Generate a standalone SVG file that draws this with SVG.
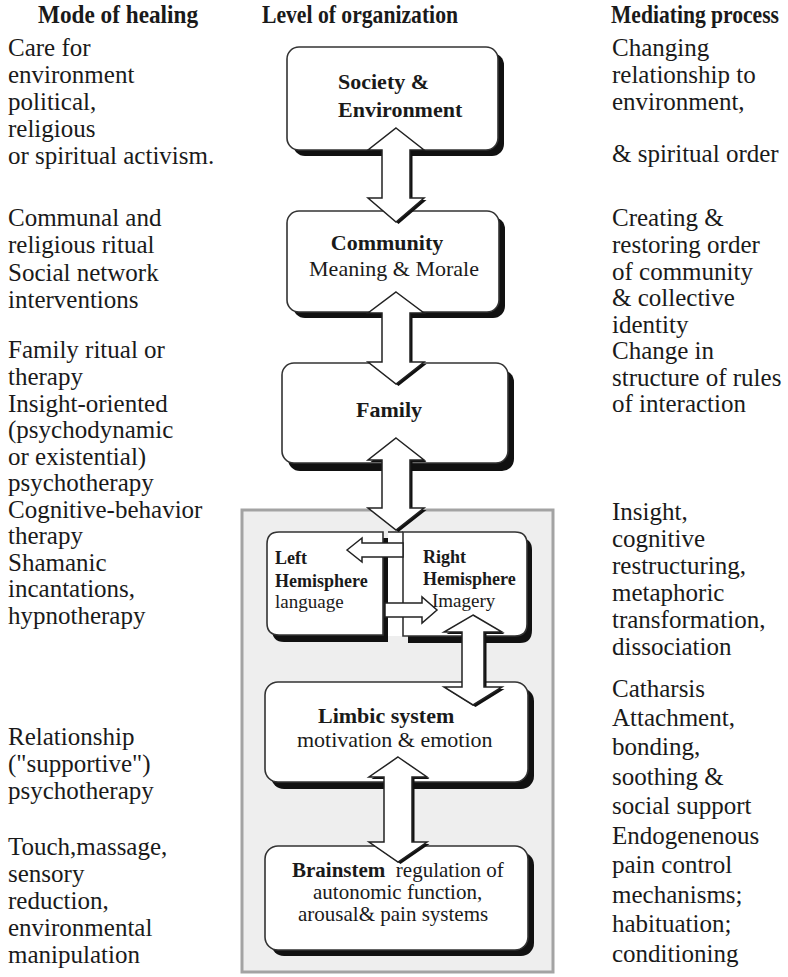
<svg xmlns="http://www.w3.org/2000/svg" width="788" height="977" viewBox="0 0 788 977">
<style>
  text { font-family: "Liberation Serif", "Times New Roman", serif; fill: #1a1a1a; }
  .hdr { font-size: 22px; font-weight: bold; }
  .side { font-size: 25px; }
  .bt { font-size: 22px; font-weight: bold; }
  .rt { font-size: 22px; }
  .hb { font-size: 18px; font-weight: bold; }
  .hr { font-size: 19px; }
  .bs { font-size: 21px; }
  .box { fill: #ffffff; stroke: #333333; stroke-width: 1.6; }
  .shadow { fill: #111111; }
  .arrow { fill: #ffffff; stroke: #222222; stroke-width: 1.5; stroke-linejoin: miter; }
  .ashadow { fill: #111111; }
</style>

<g id="headers">
  <text class="hdr" transform="translate(38,23) scale(1,1.12)" x="0" y="0" textLength="160" lengthAdjust="spacingAndGlyphs">Mode of healing</text>
  <text class="hdr" transform="translate(262,23) scale(1,1.12)" x="0" y="0" textLength="196" lengthAdjust="spacingAndGlyphs">Level of organization</text>
  <text class="hdr" transform="translate(611,23) scale(1,1.12)" x="0" y="0" textLength="168" lengthAdjust="spacingAndGlyphs">Mediating process</text>
</g>

<g id="col-mode">
  <text class="side">
    <tspan x="8" y="56">Care for</tspan>
    <tspan x="8" y="83">environment</tspan>
    <tspan x="8" y="110">political,</tspan>
    <tspan x="8" y="137">religious</tspan>
    <tspan x="8" y="164">or spiritual activism.</tspan>
    <tspan x="8" y="226">Communal and</tspan>
    <tspan x="8" y="253">religious ritual</tspan>
    <tspan x="8" y="281">Social network</tspan>
    <tspan x="8" y="308">interventions</tspan>
    <tspan x="8" y="358">Family ritual or</tspan>
    <tspan x="8" y="385">therapy</tspan>
    <tspan x="8" y="412">Insight-oriented</tspan>
    <tspan x="8" y="438">(psychodynamic</tspan>
    <tspan x="8" y="465">or existential)</tspan>
    <tspan x="8" y="491">psychotherapy</tspan>
    <tspan x="8" y="518">Cognitive-behavior</tspan>
    <tspan x="8" y="544">therapy</tspan>
    <tspan x="8" y="571">Shamanic</tspan>
    <tspan x="8" y="597">incantations,</tspan>
    <tspan x="8" y="624">hypnotherapy</tspan>
    <tspan x="8" y="745">Relationship</tspan>
    <tspan x="8" y="772">("supportive")</tspan>
    <tspan x="8" y="799">psychotherapy</tspan>
    <tspan x="8" y="855">Touch,massage,</tspan>
    <tspan x="8" y="882">sensory</tspan>
    <tspan x="8" y="909">reduction,</tspan>
    <tspan x="8" y="936">environmental</tspan>
    <tspan x="8" y="963">manipulation</tspan>
  </text>
</g>

<g id="col-mediating">
  <text class="side">
    <tspan x="612" y="56">Changing</tspan>
    <tspan x="612" y="83">relationship to</tspan>
    <tspan x="612" y="110">environment,</tspan>
    <tspan x="612" y="162">&amp; spiritual order</tspan>
    <tspan x="612" y="226">Creating &amp;</tspan>
    <tspan x="612" y="253">restoring order</tspan>
    <tspan x="612" y="280">of community</tspan>
    <tspan x="612" y="306">&amp; collective</tspan>
    <tspan x="612" y="333">identity</tspan>
    <tspan x="612" y="359">Change in</tspan>
    <tspan x="612" y="386">structure of rules</tspan>
    <tspan x="612" y="412">of interaction</tspan>
    <tspan x="612" y="520">Insight,</tspan>
    <tspan x="612" y="547">cognitive</tspan>
    <tspan x="612" y="574">restructuring,</tspan>
    <tspan x="612" y="601">metaphoric</tspan>
    <tspan x="612" y="628">transformation,</tspan>
    <tspan x="612" y="655">dissociation</tspan>
    <tspan x="612" y="697">Catharsis</tspan>
    <tspan x="612" y="726">Attachment,</tspan>
    <tspan x="612" y="755">bonding,</tspan>
    <tspan x="612" y="785">soothing &amp;</tspan>
    <tspan x="612" y="814">social support</tspan>
    <tspan x="612" y="844">Endogenenous</tspan>
    <tspan x="612" y="873">pain control</tspan>
    <tspan x="612" y="903">mechanisms;</tspan>
    <tspan x="612" y="932">habituation;</tspan>
    <tspan x="612" y="962">conditioning</tspan>
  </text>
</g>

<g id="panel">
  <rect x="242" y="510" width="311" height="462" fill="#eeeeee" stroke="#a3a3a3" stroke-width="3"/>
</g>

<g id="society">
  <rect class="shadow" x="293" y="53" width="211" height="103" rx="12"/>
  <rect class="box" x="287" y="47" width="211" height="103" rx="12"/>
  <text class="bt" x="338" y="89">Society &amp;</text>
  <text class="bt" x="338" y="117">Environment</text>
</g>

<g id="community">
  <rect class="shadow" x="293" y="217" width="212" height="101" rx="12"/>
  <rect class="box" x="287" y="211" width="212" height="101" rx="12"/>
  <text class="bt" x="387" y="250" text-anchor="middle">Community</text>
  <text class="rt" x="394" y="276" text-anchor="middle">Meaning &amp; Morale</text>
</g>

<g id="family">
  <rect class="shadow" x="288" y="370" width="226" height="101" rx="12"/>
  <rect class="box" x="282" y="363" width="226" height="100" rx="12"/>
  <text class="bt" x="389" y="417" text-anchor="middle">Family</text>
</g>

<g id="left-hemisphere">
  <path class="shadow" d="M388 538 H284 Q272 538 272 550 V629 Q272 642 284 642 H388 Z"/>
  <path class="box" d="M383 532 H279 Q267 532 267 544 V623 Q267 635 279 635 H383 Z"/>
  <text class="hb" x="275" y="564">Left</text>
  <text class="hb" x="275" y="587">Hemisphere</text>
  <text class="hr" x="275" y="608">language</text>
</g>

<g id="right-hemisphere">
  <path class="shadow" d="M408 538 H520 Q532 538 532 550 V630 Q532 643 520 643 H408 Z"/>
  <rect x="388" y="532" width="15" height="104" fill="#ffffff"/>
  <path class="box" d="M403 532 H515 Q527 532 527 544 V624 Q527 636 515 636 H403 Z"/>
  <line x1="388" y1="532" x2="403" y2="532" stroke="#333333" stroke-width="1.6"/>
  <text class="hb" x="423" y="563">Right</text>
  <text class="hb" x="423" y="585">Hemisphere</text>
  <text class="hr" x="432" y="607">Imagery</text>
</g>

<g id="limbic">
  <rect class="shadow" x="271" y="688" width="263" height="101" rx="13"/>
  <rect class="box" x="265" y="682" width="263" height="100" rx="13"/>
  <text class="bt" x="318" y="723">Limbic system</text>
  <text class="rt" x="297" y="747">motivation &amp; emotion</text>
</g>

<g id="brainstem">
  <rect class="shadow" x="271" y="852" width="263" height="104" rx="13"/>
  <rect class="box" x="265" y="846" width="263" height="104" rx="13"/>
  <text class="bs" x="292" y="877" xml:space="preserve"><tspan font-weight="bold">Brainstem</tspan>  regulation of</text>
  <text class="bs" x="313" y="899">autonomic function,</text>
  <text class="bs" x="298" y="921">arousal&amp; pain systems</text>
</g>

<g id="connectors">
  <g transform="translate(2.5,2)">
    <polygon class="ashadow" points="396,128 424,150 410,150 410,198 424,198 396,222 368,198 382,198 382,150 368,150"/>
    <polygon class="ashadow" points="396,292 424,313 410,313 410,362 424,362 396,384 368,362 382,362 382,313 368,313"/>
    <polygon class="ashadow" points="396,438 424,460 410,460 410,508 424,508 396,530 368,508 382,508 382,460 368,460"/>
    <polygon class="ashadow" points="473,615 502,632 484,632 484,687 502,687 473,705 444,687 462,687 462,632 444,632"/>
    <polygon class="ashadow" points="398,757 427,777 412,777 412,842 427,842 398,862 369,842 384,842 384,777 369,777"/>
  </g>
  <polygon class="arrow" points="396,128 424,150 410,150 410,198 424,198 396,222 368,198 382,198 382,150 368,150"/>
  <polygon class="arrow" points="396,292 424,313 410,313 410,362 424,362 396,384 368,362 382,362 382,313 368,313"/>
  <polygon class="arrow" points="396,438 424,460 410,460 410,508 424,508 396,530 368,508 382,508 382,460 368,460"/>
  <polygon class="arrow" points="473,615 502,632 484,632 484,687 502,687 473,705 444,687 462,687 462,632 444,632"/>
  <polygon class="arrow" points="398,757 427,777 412,777 412,842 427,842 398,862 369,842 384,842 384,777 369,777"/>
  <polygon class="arrow" points="347,550 362,538 362,543 403,543 403,557 362,557 362,562"/>
  <polygon class="arrow" points="385,603 422,603 422,597 437,610 422,623 422,617 385,617"/>
</g>
</svg>
